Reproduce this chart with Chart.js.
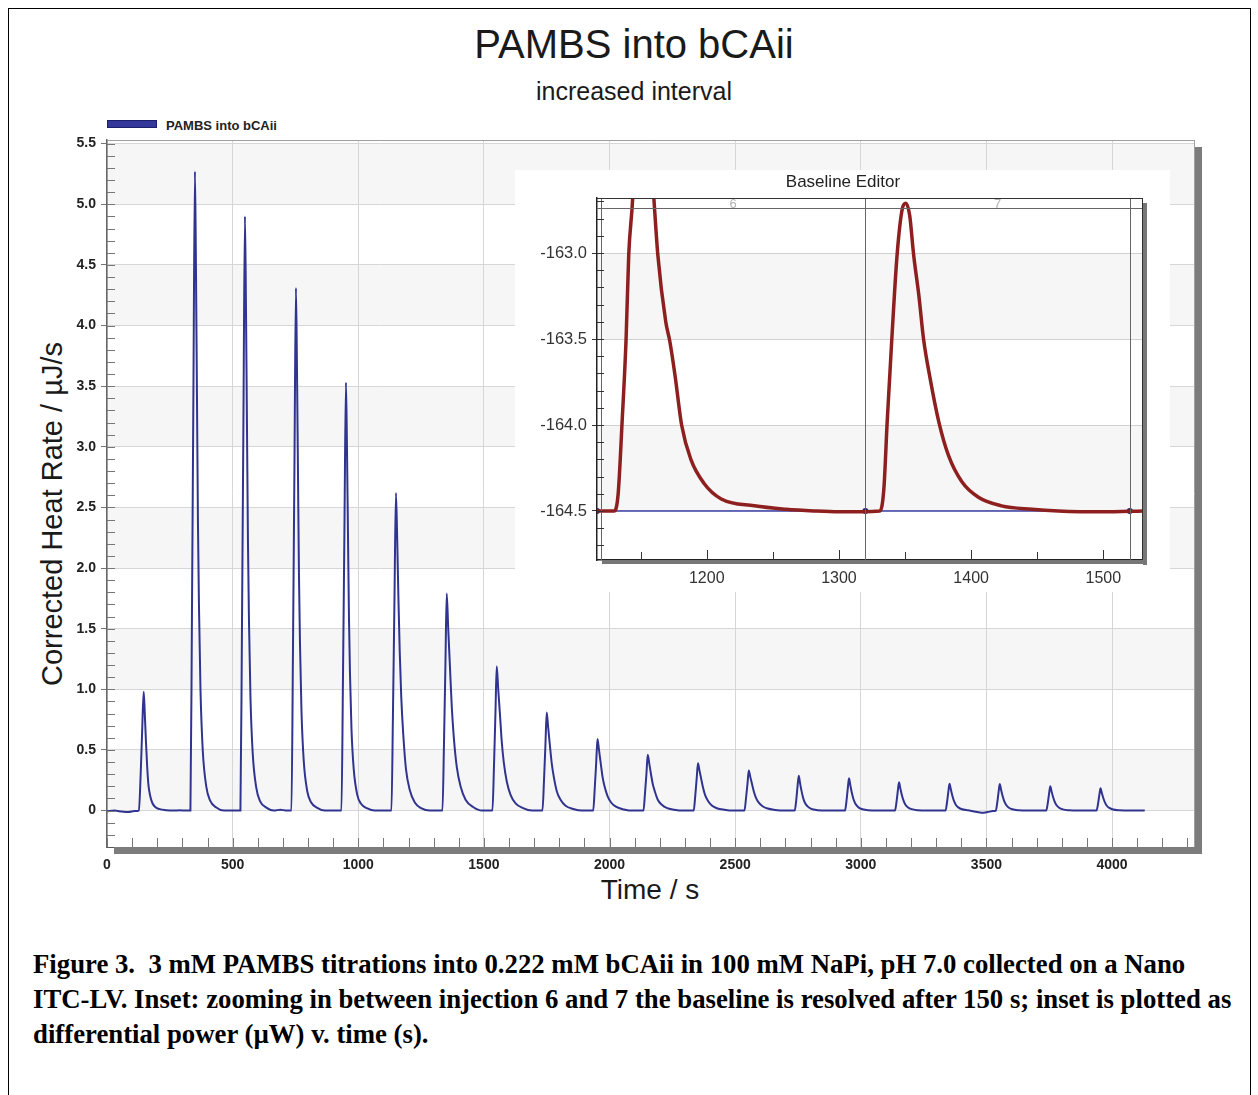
<!DOCTYPE html>
<html>
<head>
<meta charset="utf-8">
<script src="https://cdn.jsdelivr.net/npm/chart.js@4.4.0/dist/chart.umd.min.js"></script>
<style>
  body { margin: 0; background: #fff; width: 1258px; height: 1095px; position: relative; overflow: hidden;
         font-family: Arial, "Liberation Sans", sans-serif; color: #1a1a1a; }
  #frame { position: absolute; left: 8px; top: 8px; width: 1243px; height: 1110px; border: 1.5px solid #000; box-sizing: border-box; }
  .txt { position: absolute; transform: translate(-50%, -50%); white-space: nowrap; line-height: 1; }
  #title { left: 634px; top: 44px; font-size: 40px; }
  #subtitle { left: 634px; top: 91px; font-size: 25px; }
  #ytitle { left: 52px; top: 514px; font-size: 29px; transform: translate(-50%, -50%) rotate(-90deg); }
  #xtitle { left: 650px; top: 890px; font-size: 28px; }
  #legend { position: absolute; left: 107px; top: 118px; font: bold 13px Arial, "Liberation Sans", sans-serif; color: #222; }
  #legend .swatch { display: inline-block; width: 48px; height: 6px; background: #34379a; border: 1px solid #1d1f6e; margin-right: 9px; vertical-align: 2px; }
  #mainChart { position: absolute; left: 0; top: 0; }
  #insetBox { position: absolute; left: 515px; top: 170px; width: 655px; height: 422px; background: #fff; }
  #insetChart { position: absolute; left: 0; top: 0; }
  #insetTitle { left: 328px; top: 11px; font-size: 17px; color: #222; }
  #caption { position: absolute; left: 33px; top: 947px; font: bold 26.75px "Liberation Serif", "Times New Roman", serif;
             line-height: 35px; white-space: nowrap; color: #000; }
</style>
</head>
<body>
<div id="frame"></div>
<div id="title" class="txt">PAMBS into bCAii</div>
<div id="subtitle" class="txt">increased interval</div>
<div id="legend"><span class="swatch"></span>PAMBS into bCAii</div>
<div id="ytitle" class="txt">Corrected Heat Rate / µJ/s</div>
<div id="xtitle" class="txt">Time / s</div>
<canvas id="mainChart" width="1258" height="920"></canvas>
<div id="insetBox">
  <canvas id="insetChart" width="655" height="422"></canvas>
  <div id="insetTitle" class="txt">Baseline Editor</div>
</div>
<div id="caption">Figure 3.&nbsp; 3 mM PAMBS titrations into 0.222 mM bCAii in 100 mM NaPi, pH 7.0 collected on a Nano<br>ITC-LV. Inset: zooming in between injection 6 and 7 the baseline is resolved after 150 s; inset is plotted as<br>differential power (µW) v. time (s).</div>

<script>
// main trace: time (s) and corrected heat rate (uJ/s), one row per injection
const timeS = [
  0, 30, 60, 85, 110, 127,
  134, 140, 146, 150, 155, 160, 165, 172, 180, 192, 210, 235, 265, 290, 310,
  332, 338, 344, 350, 354, 358, 362, 366, 372, 381, 395, 410, 435, 465, 500,
  531, 537, 543, 549, 553, 557, 561, 565, 571, 580, 594, 609, 634, 664, 690, 715,
  734, 740, 746, 752, 756, 760, 764, 768, 774, 783, 797, 812, 837, 867,
  933, 939, 945, 951, 955, 959, 963, 967, 973, 982, 996, 1011, 1036, 1066,
  1132, 1138, 1144, 1150, 1155, 1160, 1165, 1171, 1179, 1190, 1205, 1225, 1250, 1285,
  1335, 1341, 1347, 1352, 1358, 1365, 1372, 1380, 1392, 1407, 1427, 1457, 1492,
  1534, 1540, 1546, 1551, 1557, 1564, 1571, 1579, 1591, 1606, 1626, 1656, 1691,
  1733, 1739, 1745, 1750, 1756, 1763, 1770, 1778, 1790, 1805, 1825, 1855, 1890,
  1935, 1941, 1947, 1952, 1958, 1965, 1972, 1980, 1992, 2007, 2027, 2057, 2092,
  2135, 2141, 2147, 2152, 2158, 2165, 2172, 2180, 2192, 2207, 2227, 2257, 2292,
  2335, 2341, 2347, 2352, 2358, 2365, 2372, 2380, 2392, 2407, 2427, 2457, 2492,
  2537, 2543, 2549, 2554, 2560, 2567, 2574, 2582, 2594, 2609, 2629, 2659, 2694,
  2737, 2743, 2748, 2753, 2758, 2763, 2770, 2778, 2788, 2803, 2828, 2863,
  2937, 2943, 2948, 2953, 2958, 2963, 2970, 2978, 2988, 3003, 3028, 3063,
  3136, 3142, 3147, 3152, 3157, 3162, 3169, 3177, 3187, 3202, 3227, 3262,
  3337, 3343, 3348, 3353, 3358, 3363, 3370, 3378, 3388, 3403, 3428, 3463, 3480, 3505, 3525,
  3537, 3543, 3548, 3553, 3558, 3563, 3570, 3578, 3588, 3603, 3628, 3663,
  3738, 3744, 3749, 3754, 3759, 3764, 3771, 3779, 3789, 3804, 3829, 3864,
  3938, 3944, 3949, 3954, 3959, 3964, 3971, 3979, 3989, 4004, 4029, 4064, 4100, 4130
];
const heatRate = [
  -0.005, 0.0, -0.008, -0.012, -0.004, 0.0,
  0.30, 0.66, 0.98, 0.82, 0.57, 0.36, 0.21, 0.12, 0.065, 0.03, 0.012, 0.004, 0.0, 0.003, 0.0,
  0, 1.58, 3.48, 5.27, 4.48, 3.43, 2.37, 1.69, 1.00, 0.50, 0.20, 0.084, 0.026, 0, 0,
  0, 1.47, 3.23, 4.90, 4.17, 3.19, 2.21, 1.57, 0.93, 0.47, 0.19, 0.078, 0.025, 0, 0.008, 0,
  0, 1.29, 2.84, 4.31, 3.66, 2.80, 1.94, 1.38, 0.82, 0.41, 0.16, 0.069, 0.022, 0,
  0, 1.06, 2.33, 3.53, 3.00, 2.29, 1.59, 1.13, 0.67, 0.34, 0.13, 0.056, 0.018, 0,
  0, 0.79, 1.73, 2.62, 2.23, 1.73, 1.31, 0.94, 0.63, 0.34, 0.17, 0.066, 0.021, 0,
  0, 0.54, 1.22, 1.79, 1.50, 1.18, 0.86, 0.61, 0.36, 0.20, 0.090, 0.030, 0,
  0, 0.36, 0.81, 1.19, 1.00, 0.79, 0.57, 0.40, 0.24, 0.13, 0.06, 0.02, 0,
  0, 0.24, 0.55, 0.81, 0.68, 0.53, 0.39, 0.28, 0.16, 0.09, 0.04, 0.014, 0,
  0, 0.18, 0.40, 0.59, 0.50, 0.39, 0.28, 0.20, 0.12, 0.065, 0.03, 0.01, 0,
  0, 0.14, 0.31, 0.46, 0.39, 0.30, 0.22, 0.16, 0.09, 0.05, 0.023, 0.008, 0,
  0, 0.12, 0.27, 0.39, 0.33, 0.26, 0.19, 0.13, 0.08, 0.043, 0.02, 0.007, 0,
  0, 0.10, 0.22, 0.33, 0.28, 0.22, 0.16, 0.11, 0.066, 0.036, 0.017, 0.006, 0,
  0, 0.086, 0.196, 0.288, 0.23, 0.173, 0.109, 0.063, 0.035, 0.014, 0.004, 0,
  0, 0.08, 0.18, 0.266, 0.213, 0.16, 0.10, 0.059, 0.032, 0.013, 0.004, 0,
  0, 0.07, 0.158, 0.233, 0.186, 0.14, 0.089, 0.051, 0.028, 0.012, 0.003, 0,
  0, 0.067, 0.151, 0.222, 0.178, 0.133, 0.084, 0.049, 0.027, 0.011, 0.003, -0.012, -0.018, -0.012, -0.004,
  -0.002, 0.066, 0.149, 0.219, 0.175, 0.131, 0.083, 0.048, 0.026, 0.011, 0.003, 0,
  0, 0.06, 0.136, 0.20, 0.16, 0.12, 0.076, 0.044, 0.024, 0.01, 0.003, 0,
  0, 0.055, 0.125, 0.184, 0.147, 0.11, 0.07, 0.04, 0.022, 0.009, 0.003, 0, 0.002, 0
];

// inset: differential power (uW) between injections 6 and 7
const insetTime = [
  1117, 1130, 1133, 1136, 1139, 1141, 1144, 1150, 1160, 1163, 1169, 1172, 1176, 1181, 1188, 1198, 1211, 1236, 1260, 1281, 1300,
  1331, 1334, 1336.5, 1340, 1344, 1348, 1350.5, 1353.5, 1356.5, 1360.5, 1364, 1369, 1375.5, 1383, 1393, 1405.5, 1423, 1446, 1466, 1500, 1530
];
const insetPower = [
  -164.5, -164.5, -164.40, -163.98, -163.50, -163.01, -162.68, -161.5, -162.68, -163.01, -163.40, -163.51, -163.71, -164.0, -164.20, -164.34, -164.43, -164.47, -164.49, -164.5, -164.505,
  -164.5, -164.37, -163.98, -163.50, -163.01, -162.74, -162.71, -162.78, -163.01, -163.25, -163.50, -163.73, -163.98, -164.18, -164.33, -164.42, -164.47, -164.49, -164.5, -164.505, -164.5
];
const baselineTime = [1117, 1320, 1520, 1530];
const baselinePower = [-164.5, -164.5, -164.5, -164.5];
const injectionTimes = [1120, 1320, 1520];
const injectionLabels = ['6', '7'];

const FONT = 'Arial, "Liberation Sans", sans-serif';
const isHalf = v => Math.abs(v * 2 - Math.round(v * 2)) < 1e-6;
const clear = 'rgba(0,0,0,0)';

// alternating grey bands behind the grid
const bandsPlugin = {
  id: 'bands',
  beforeDraw(chart, args, opts) {
    const { ctx, chartArea: a, scales: { y } } = chart;
    ctx.save();
    ctx.fillStyle = opts.color;
    for (const [lo, hi] of opts.ranges) {
      const top = Math.max(y.getPixelForValue(hi), a.top);
      const bot = Math.min(y.getPixelForValue(lo), a.bottom);
      if (bot > top) ctx.fillRect(a.left, top, a.right - a.left, bot - top);
    }
    ctx.restore();
  }
};

// inside minor ticks, drop shadow and frame lines
const framePlugin = {
  id: 'frame',
  afterDraw(chart, args, o) {
    const { ctx, chartArea: a, scales: { x, y } } = chart;
    ctx.save();
    ctx.strokeStyle = o.tickColor;
    ctx.lineWidth = 1;
    ctx.beginPath();
    for (const t of y.ticks) {
      const py = Math.round(y.getPixelForValue(t.value)) + 0.5;
      ctx.moveTo(a.left, py); ctx.lineTo(a.left + o.yTick, py);
    }
    for (const t of x.ticks) {
      const px = Math.round(x.getPixelForValue(t.value)) + 0.5;
      const len = (o.xMajor && t.value % o.xMajor === 0) ? o.xTick + 2 : o.xTick;
      ctx.moveTo(px, a.bottom); ctx.lineTo(px, a.bottom - len);
    }
    ctx.stroke();
    ctx.strokeStyle = o.borderColor;
    ctx.beginPath();
    ctx.moveTo(a.left, a.top + 0.5); ctx.lineTo(a.right, a.top + 0.5);
    ctx.moveTo(a.right - 0.5, a.top); ctx.lineTo(a.right - 0.5, a.bottom);
    ctx.stroke();
    ctx.fillStyle = o.shadowColor;
    const s = o.shadow;
    ctx.fillRect(a.right, a.top + s.offset, s.size, a.bottom - a.top);
    ctx.fillRect(a.left + s.offset, a.bottom, a.right - a.left - s.offset + s.size, s.size);
    ctx.restore();
  }
};

// injection markers and the numbered strip along the top of the inset
const injectionPlugin = {
  id: 'injections',
  afterDatasetsDraw(chart, args, o) {
    const { ctx, chartArea: a, scales: { x } } = chart;
    ctx.save();
    ctx.beginPath();
    ctx.rect(a.left, a.top, a.right - a.left, a.bottom - a.top);
    ctx.clip();
    ctx.strokeStyle = o.lineColor;
    ctx.lineWidth = 1;
    ctx.beginPath();
    for (const t of o.times) {
      const px = Math.round(x.getPixelForValue(t)) + 0.5;
      ctx.moveTo(px, a.top); ctx.lineTo(px, a.bottom);
    }
    ctx.moveTo(a.left, a.top + o.strip + 0.5); ctx.lineTo(a.right, a.top + o.strip + 0.5);
    ctx.stroke();
    ctx.fillStyle = o.labelColor;
    ctx.font = '13px ' + FONT;
    ctx.textAlign = 'center';
    ctx.textBaseline = 'middle';
    o.labels.forEach((lab, i) => {
      const mid = (o.times[i] + o.times[i + 1]) / 2;
      ctx.fillText(lab, x.getPixelForValue(mid), a.top + o.strip / 2 + 1);
    });
    ctx.restore();
  }
};

new Chart(document.getElementById('mainChart'), {
  type: 'line',
  data: {
    datasets: [{
      label: 'PAMBS into bCAii',
      data: timeS.map((t, i) => ({ x: t, y: heatRate[i] })),
      borderColor: '#30348f',
      borderWidth: 2,
      pointRadius: 0,
      cubicInterpolationMode: 'monotone',
      fill: false
    }]
  },
  options: {
    responsive: false,
    animation: false,
    layout: { padding: { left: 0, top: 140, right: 63, bottom: 0 } },
    plugins: {
      legend: { display: false },
      tooltip: { enabled: false },
      bands: { color: '#f6f6f6', ranges: [[0, 0.5], [1, 1.5], [2, 2.5], [3, 3.5], [4, 4.5], [5, 5.5]] },
      frame: { tickColor: '#777', yTick: 8, xTick: 9, xMajor: 0, borderColor: '#a0a0a0', shadowColor: '#7c7c7c', shadow: { offset: 7, size: 7 } }
    },
    scales: {
      x: {
        type: 'linear', min: 0, max: 4330,
        afterFit: s => { s.height = 73; },
        ticks: {
          stepSize: 100, autoSkip: false, maxRotation: 0, includeBounds: false, padding: 4,
          color: '#222', font: { family: FONT, size: 14, weight: 'bold' },
          callback: v => (v % 500 === 0 ? String(v) : '')
        },
        grid: {
          color: c => (c.tick && c.tick.value % 500 === 0 ? '#d6d6d6' : clear),
          tickColor: clear, tickLength: 6
        },
        border: { color: '#555', width: 1 }
      },
      y: {
        min: -0.3, max: 5.53,
        afterFit: s => { s.width = 107; },
        ticks: {
          stepSize: 0.1, autoSkip: false, includeBounds: false, padding: 5,
          color: '#222', font: { family: FONT, size: 14, weight: 'bold' },
          callback: v => (isHalf(v) ? (Math.abs(v) < 1e-9 ? '0' : v.toFixed(1)) : '')
        },
        grid: {
          color: c => (c.tick && isHalf(c.tick.value) ? '#d6d6d6' : clear),
          tickColor: c => (c.tick && isHalf(c.tick.value) ? '#777' : clear), tickLength: 6
        },
        border: { color: '#666', width: 1.5 }
      }
    }
  },
  plugins: [bandsPlugin, framePlugin]
});

new Chart(document.getElementById('insetChart'), {
  type: 'line',
  data: {
    datasets: [{
      label: 'Differential power',
      data: insetTime.map((t, i) => ({ x: t, y: insetPower[i] })),
      borderColor: '#8e1f1f',
      borderWidth: 3.5,
      pointRadius: 0,
      cubicInterpolationMode: 'monotone',
      fill: false
    }, {
      label: 'Baseline',
      data: baselineTime.map((t, i) => ({ x: t, y: baselinePower[i] })),
      borderColor: '#3b3fa6',
      borderWidth: 1.5,
      pointRadius: [3, 3, 3, 0],
      pointBackgroundColor: '#23236b',
      pointBorderWidth: 0,
      fill: false
    }]
  },
  options: {
    responsive: false,
    animation: false,
    layout: { padding: { left: 0, top: 28, right: 27, bottom: 0 } },
    plugins: {
      legend: { display: false },
      tooltip: { enabled: false },
      bands: { color: '#f6f6f6', ranges: [[-163.5, -163.0], [-164.5, -164.0]] },
      frame: { tickColor: '#333', yTick: 7, xTick: 8, xMajor: 100, borderColor: '#333', shadowColor: '#777', shadow: { offset: 5, size: 4 } },
      injections: { times: injectionTimes, labels: injectionLabels, lineColor: '#666', labelColor: '#b3b3b3', strip: 10 }
    },
    scales: {
      x: {
        type: 'linear', min: 1117, max: 1530,
        afterFit: s => { s.height = 32; },
        ticks: {
          stepSize: 50, autoSkip: false, maxRotation: 0, includeBounds: false, padding: 5,
          color: '#333', font: { family: FONT, size: 16 },
          callback: v => (v % 100 === 0 ? String(v) : '')
        },
        grid: { drawOnChartArea: false, color: clear, tickColor: clear, tickLength: 4 },
        border: { color: '#222', width: 1.5 }
      },
      y: {
        min: -164.785, max: -162.68,
        afterFit: s => { s.width = 82; },
        ticks: {
          stepSize: 0.1, autoSkip: false, includeBounds: false, padding: 5,
          color: '#333', font: { family: FONT, size: 16.5 },
          callback: v => (isHalf(v) ? v.toFixed(1) : '')
        },
        grid: {
          color: c => (c.tick && isHalf(c.tick.value) ? '#d0d0d0' : clear),
          tickColor: c => (c.tick && isHalf(c.tick.value) ? '#333' : clear), tickLength: 5
        },
        border: { color: '#222', width: 1.5 }
      }
    }
  },
  plugins: [bandsPlugin, framePlugin, injectionPlugin]
});
</script>
</body>
</html>
